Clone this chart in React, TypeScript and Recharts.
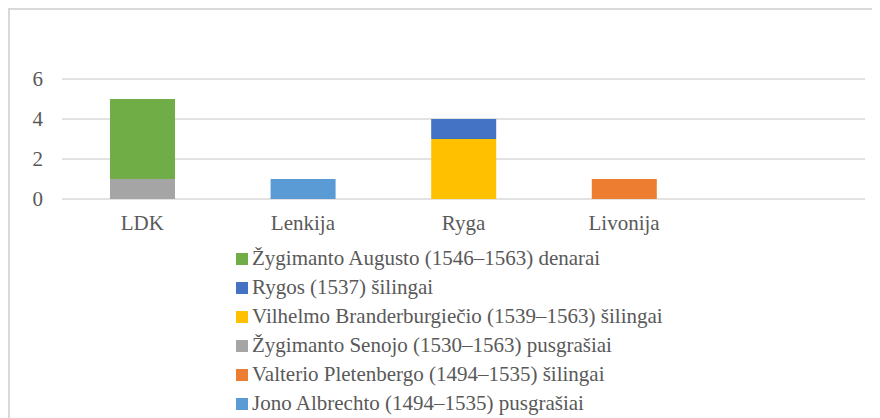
import React from 'react';
import { BarChart, Bar, XAxis, YAxis, CartesianGrid } from 'recharts';

const categories = ['LDK', 'Lenkija', 'Ryga', 'Livonija', ''];

// stack order, bottom to top
const jono = [0, 1, 0, 0, 0];
const valterio = [0, 0, 0, 1, 0];
const senojo = [1, 0, 0, 0, 0];
const vilhelmo = [0, 0, 3, 0, 0];
const rygos = [0, 0, 1, 0, 0];
const augusto = [4, 0, 0, 0, 0];

const series = [
  { key: 'jono', name: 'Jono Albrechto (1494–1535) pusgrašiai', color: '#5B9BD5', values: jono },
  { key: 'valterio', name: 'Valterio Pletenbergo (1494–1535) šilingai', color: '#ED7D31', values: valterio },
  { key: 'senojo', name: 'Žygimanto Senojo (1530–1563) pusgrašiai', color: '#A5A5A5', values: senojo },
  { key: 'vilhelmo', name: 'Vilhelmo Branderburgiečio (1539–1563) šilingai', color: '#FFC000', values: vilhelmo },
  { key: 'rygos', name: 'Rygos (1537) šilingai', color: '#4472C4', values: rygos },
  { key: 'augusto', name: 'Žygimanto Augusto (1546–1563) denarai', color: '#70AD47', values: augusto },
];

const yTicks = [0, 2, 4, 6];

const data = categories.map((c, i) => {
  const row: Record<string, string | number | null> = { name: c };
  series.forEach((s) => {
    row[s.key] = s.values[i] ? s.values[i] : null;
  });
  return row;
});

const FONT = "'Liberation Serif', 'Times New Roman', Tinos, 'DejaVu Serif', serif";
const TEXT = '#595959';

const App: React.FC = () => {
  const legendItems = [...series].reverse();
  return (
    <div
      style={{
        position: 'relative',
        width: 900,
        height: 440,
        borderTop: '2px solid #d9d9d9',
        borderLeft: '2px solid #d9d9d9',
        fontFamily: FONT,
      }}
    >
      <BarChart
        width={870}
        height={410}
        data={data}
        margin={{ top: 69, right: 15, bottom: 191, left: 0 }}
        style={{ fontFamily: FONT }}
      >
        <CartesianGrid vertical={false} stroke="#d9d9d9" strokeWidth={1.5} />
        <XAxis
          dataKey="name"
          axisLine={false}
          tickLine={false}
          tickSize={0}
          tickMargin={16}
          tick={{ fill: TEXT, fontSize: 21, fontFamily: FONT }}
          interval={0}
        />
        <YAxis
          width={52}
          domain={[0, 6]}
          ticks={yTicks}
          axisLine={false}
          tickLine={false}
          tickSize={0}
          tickMargin={19}
          tick={{ fill: TEXT, fontSize: 21, fontFamily: FONT }}
        />
        {series.map((s) => (
          <Bar
            key={s.key}
            dataKey={s.key}
            name={s.name}
            stackId="a"
            fill={s.color}
            barSize={65}
            isAnimationActive={false}
          />
        ))}
      </BarChart>
      <div style={{ position: 'absolute', left: 226, top: 234 }}>
        {legendItems.map((s) => (
          <div
            key={s.key}
            style={{
              display: 'flex',
              alignItems: 'center',
              height: 29,
              color: TEXT,
              fontSize: 21,
              whiteSpace: 'nowrap',
            }}
          >
            <span
              style={{
                display: 'inline-block',
                width: 12,
                height: 12,
                background: s.color,
                marginRight: 4,
              }}
            />
            {s.name}
          </div>
        ))}
      </div>
    </div>
  );
};

export default App;
